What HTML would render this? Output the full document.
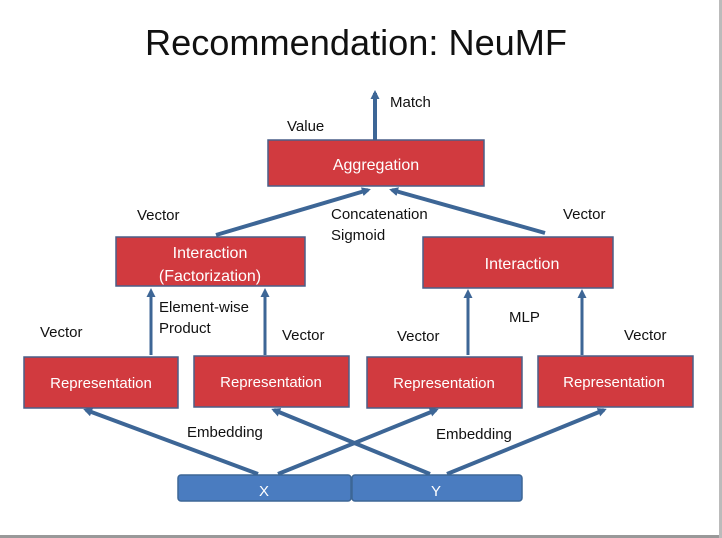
<!DOCTYPE html>
<html><head><meta charset="utf-8"><style>
html,body{margin:0;padding:0;background:#fff;}
svg{display:block;}
text{font-family:"Liberation Sans",sans-serif;}
</style></head><body>
<svg width="722" height="538" viewBox="0 0 722 538" xmlns="http://www.w3.org/2000/svg">
<defs>
<marker id="ah" markerWidth="9" markerHeight="9" refX="6" refY="4.5" orient="auto" markerUnits="userSpaceOnUse">
<path d="M0,0 L9,4.5 L0,9 Z" fill="#3d6696"/>
</marker>
</defs>
<rect x="0" y="0" width="722" height="538" fill="#fff"/>
<line x1="0" y1="536.5" x2="722" y2="536.5" stroke="#999" stroke-width="3"/>
<line x1="720.5" y1="0" x2="720.5" y2="538" stroke="#bbb" stroke-width="3"/>
<text x="145" y="55" font-size="36" fill="#111" textLength="422" lengthAdjust="spacingAndGlyphs">Recommendation: NeuMF</text>

<g stroke="#3d6696" fill="none">
<line x1="375" y1="140" x2="375" y2="93" stroke-width="4" marker-end="url(#ah)"/>
<line x1="216" y1="235" x2="368" y2="190" stroke-width="4" marker-end="url(#ah)"/>
<line x1="545" y1="233" x2="392" y2="190" stroke-width="4" marker-end="url(#ah)"/>
<line x1="151" y1="355" x2="151" y2="291" stroke-width="3" marker-end="url(#ah)"/>
<line x1="265" y1="355" x2="265" y2="291" stroke-width="3" marker-end="url(#ah)"/>
<line x1="468" y1="355" x2="468" y2="292" stroke-width="3" marker-end="url(#ah)"/>
<line x1="582" y1="355" x2="582" y2="292" stroke-width="3" marker-end="url(#ah)"/>
<line x1="258" y1="474" x2="86" y2="410" stroke-width="4" marker-end="url(#ah)"/>
<line x1="278" y1="474" x2="436" y2="410" stroke-width="4" marker-end="url(#ah)"/>
<line x1="430" y1="474" x2="274" y2="410" stroke-width="4" marker-end="url(#ah)"/>
<line x1="447" y1="474" x2="604" y2="410" stroke-width="4" marker-end="url(#ah)"/>
</g>

<g fill="#d13a3f" stroke="#4a5f88" stroke-width="1.5">
<rect x="268" y="140" width="216" height="46"/>
<rect x="116" y="237" width="189" height="49"/>
<rect x="423" y="237" width="190" height="51"/>
<rect x="24" y="357" width="154" height="51"/>
<rect x="194" y="356" width="155" height="51"/>
<rect x="367" y="357" width="155" height="51"/>
<rect x="538" y="356" width="155" height="51"/>
</g>
<g fill="#4a7cc0" stroke="#3d6696" stroke-width="1.5">
<rect x="178" y="475" width="173" height="26" rx="3"/>
<rect x="352" y="475" width="170" height="26" rx="3"/>
</g>

<g fill="#fff" font-size="16" text-anchor="middle">
<text x="376" y="170">Aggregation</text>
<text x="210" y="258">Interaction</text>
<text x="210" y="281">(Factorization)</text>
<text x="522" y="269">Interaction</text>
<text x="101" y="388" font-size="15">Representation</text>
<text x="271" y="387" font-size="15">Representation</text>
<text x="444" y="388" font-size="15">Representation</text>
<text x="614" y="387" font-size="15">Representation</text>
<text x="264" y="496" font-size="15">X</text>
<text x="436" y="496" font-size="15">Y</text>
</g>

<g fill="#111" font-size="15">
<text x="390" y="107">Match</text>
<text x="287" y="131">Value</text>
<text x="137" y="220">Vector</text>
<text x="331" y="219">Concatenation</text>
<text x="331" y="240">Sigmoid</text>
<text x="563" y="219">Vector</text>
<text x="159" y="312">Element-wise</text>
<text x="159" y="333">Product</text>
<text x="40" y="337">Vector</text>
<text x="282" y="340">Vector</text>
<text x="397" y="341">Vector</text>
<text x="509" y="322">MLP</text>
<text x="624" y="340">Vector</text>
<text x="187" y="437">Embedding</text>
<text x="436" y="439">Embedding</text>
</g>
</svg>
</body></html>
